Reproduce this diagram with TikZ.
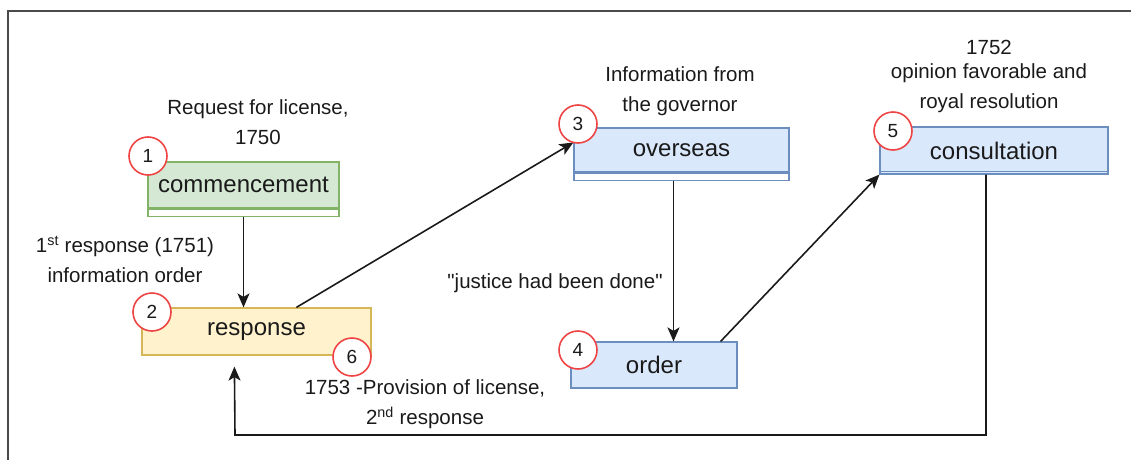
\documentclass[tikz,border=0pt]{standalone}
\usepackage{fontspec}
\setmainfont{Liberation Sans}[Ligatures=TeXOff]
\usetikzlibrary{arrows.meta,calc}

\definecolor{ink}{HTML}{1A1A1A}
\definecolor{framegray}{HTML}{4A4A4A}
\definecolor{greenfill}{HTML}{D5E8D4}
\definecolor{greenline}{HTML}{82B366}
\definecolor{yellowfill}{HTML}{FFF2CC}
\definecolor{yellowline}{HTML}{D6B656}
\definecolor{bluefill}{HTML}{DAE8FC}
\definecolor{blueline}{HTML}{6C8EBF}
\definecolor{badgered}{HTML}{EE4444}

\begin{document}
\begin{tikzpicture}[x=1pt,y=-1pt,
  box/.style={draw, line width=1.2pt, inner sep=0pt, text=ink,
    font=\fontsize{24}{28}\selectfont},
  greenbox/.style={box, draw=greenline, fill=greenfill},
  yellowbox/.style={box, draw=yellowline, fill=yellowfill},
  bluebox/.style={box, draw=blueline, fill=bluefill},
  stripbox/.style={draw, line width=1.2pt, fill=white, inner sep=0pt,
    minimum height=7pt, anchor=north},
  badge/.style={circle, draw=badgered, fill=white, line width=1.6pt,
    minimum size=38pt, inner sep=0pt, text=ink,
    font=\fontsize{19}{21}\selectfont},
  note/.style={align=center, text=ink, inner sep=0pt,
    font=\fontsize{20.5}{30}\selectfont},
  conn/.style={draw=ink, line width=1.6pt},
  arrow/.style={conn, -{Stealth[length=14pt,width=12pt,inset=3.5pt]}}
]
\useasboundingbox (0,0) rectangle (1131,460);

% outer frame (top and left edges)
\draw[framegray, line width=1.5pt] (1131,11) -- (8,11) -- (8,460);

% process boxes
\node[greenbox, minimum width=191pt, minimum height=46pt] (commence) at (243.5,185) {commencement};
\node[stripbox, draw=greenline, minimum width=191pt] (commenceStrip) at (commence.south) {};

\node[yellowbox, minimum width=229pt, minimum height=47pt] (response) at (256.5,331.5) {response};

\node[bluebox, minimum width=215pt, minimum height=44pt] (overseas) at (681.5,150) {overseas};
\node[stripbox, draw=blueline, minimum width=215pt] (overseasStrip) at (overseas.south) {};

\node[bluebox, minimum width=166pt, minimum height=46pt] (order) at (654,365) {order};

\node[bluebox, minimum width=228pt, minimum height=47pt] (consult) at (994,150.5) {consultation};
\draw[blueline, line width=0.8pt] ($(consult.south west)+(0,-3)$) -- ($(consult.south east)+(0,-3)$);

% annotations
\node[note] (reqNote) at (258,122) {Request for license,\\1750};
\node[note] (firstNote) at (125,259.5) {1\textsuperscript{st} response (1751)\\information order};
\node[note] (govNote) at (680,91) {Information from\\the governor};
\node[note] (justNote) at (555,283) {"justice had been done"};
\node[note] (royalNote) at (989,76) {1752\\[-6pt]opinion favorable and\\royal resolution};
\node[note] (provNote) at (425,404.5) {1753 -Provision of license,\\2\textsuperscript{nd} response};

% connectors
\coordinate (ovOut) at ($(overseasStrip.south)+(-8,0)$);
\coordinate (orderOut) at ($(order.north east)+(-17,0)$);
\coordinate (respOut) at ($(response.north west)+(155,0)$);
\coordinate (ovIn) at ($(overseas.north west)+(0,15)$);
\coordinate (consultOut) at ($(consult.south)+(-8,0)$);
\coordinate (respIn) at ($(response.south west)+(93,11)$);
\coordinate (loopCorner) at (235,435);

\draw[arrow] (commenceStrip.south) -- (commenceStrip.south |- response.north);
\draw[arrow] (respOut) -- (ovIn);
\draw[arrow] (ovOut) -- (ovOut |- order.north);
\draw[arrow] (orderOut) -- (consult.south west);
\draw[arrow] (consultOut) |- (loopCorner) -- (respIn);

% step badges
\node[badge] (b1) at (148,156) {1};
\node[badge] (b2) at (152,312) {2};
\node[badge] (b3) at (578,124) {3};
\node[badge] (b4) at (578,350) {4};
\node[badge] (b5) at (893,131) {5};
\node[badge] (b6) at (352,357) {6};
\end{tikzpicture}
\end{document}
